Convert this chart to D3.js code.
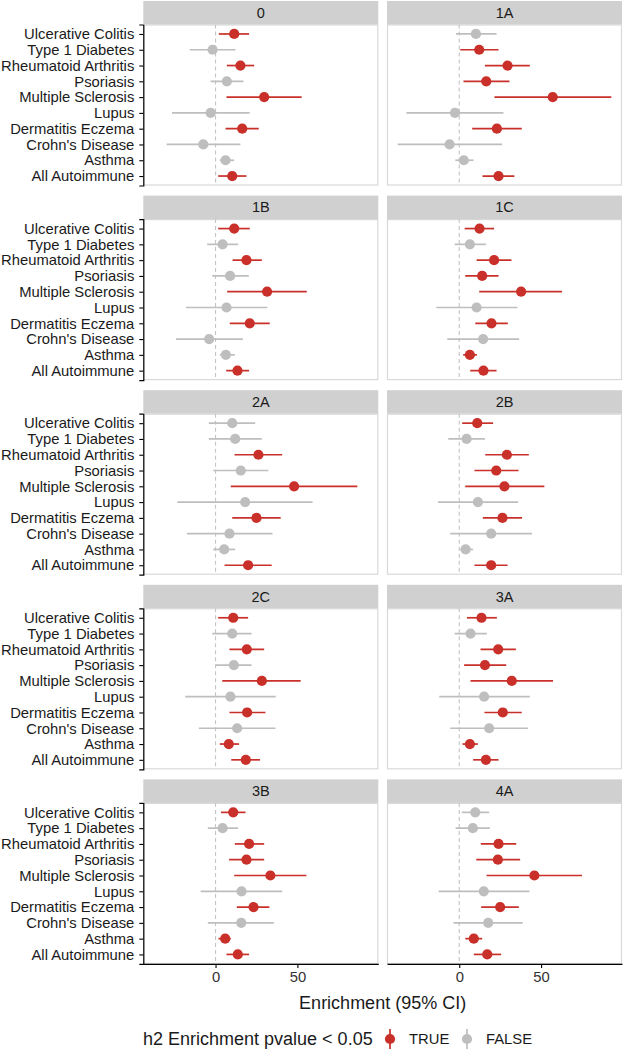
<!DOCTYPE html>
<html>
<head>
<meta charset="utf-8">
<script src="https://cdn.jsdelivr.net/npm/d3@7"></script>
<style>
  html, body { margin: 0; padding: 0; background: #fff; }
  svg { display: block; font-family: "Liberation Sans", Arial, sans-serif; }
</style>
</head>
<body>
<svg id="chart" width="624" height="1050"></svg>
<script>
// ---------- DATA ----------
const categories = ["Ulcerative Colitis", "Type 1 Diabetes", "Rheumatoid Arthritis", "Psoriasis",
  "Multiple Sclerosis", "Lupus", "Dermatitis Eczema", "Crohn's Disease", "Asthma", "All Autoimmune"];
const panels = ["0", "1A", "1B", "1C", "2A", "2B", "2C", "3A", "3B", "4A"];
const xTicks = [0, 50];

// estimate, lower, upper, significant — one array per panel, in category order
const est_0  = [11.4, -1.8, 15.2, 6.9, 29.7, -3.0, 16.3, -7.5, 6.1, 10.2];
const lo_0   = [2.0, -15.7, 6.9, -3.0, 6.7, -26.6, 6.1, -29.9, 2.6, 1.6];
const hi_0   = [20.5, 12.2, 23.6, 17.0, 52.6, 20.9, 26.4, 15.2, 11.4, 18.9];
const sig_0  = [1, 0, 1, 0, 1, 0, 1, 0, 0, 1];

const est_1A = [10.2, 12.2, 29.5, 16.5, 57.1, -2.6, 23.0, -5.9, 2.8, 24.0];
const lo_1A  = [-2.0, 0.6, 15.7, 2.6, 21.5, -32.3, 7.9, -37.6, -2.4, 14.2];
const hi_1A  = [22.8, 24.0, 43.1, 30.7, 92.9, 27.0, 38.2, 26.2, 8.7, 33.7];
const sig_1A = [0, 1, 1, 1, 1, 0, 1, 0, 0, 1];

const est_1B = [11.4, 4.3, 18.9, 8.9, 31.5, 6.7, 20.9, -3.9, 6.3, 13.4];
const lo_1B  = [1.6, -5.1, 10.4, -2.0, 7.1, -18.1, 8.7, -24.2, 2.6, 6.5];
const hi_1B  = [20.9, 13.8, 28.3, 20.3, 55.7, 31.7, 33.1, 16.7, 11.8, 20.5];
const sig_1B = [1, 0, 1, 0, 1, 0, 1, 0, 0, 1];

const est_1C = [12.4, 6.5, 21.3, 14.0, 37.8, 10.6, 19.7, 14.6, 6.5, 14.8];
const lo_1C  = [3.3, -2.8, 10.6, 3.7, 12.2, -14.0, 9.8, -7.3, 2.4, 6.7];
const hi_1C  = [21.3, 16.3, 31.9, 24.0, 62.8, 35.6, 29.7, 36.6, 10.8, 22.8];
const sig_1C = [1, 0, 1, 1, 1, 0, 1, 0, 1, 1];

const est_2A = [10.2, 12.0, 26.2, 15.4, 48.0, 18.1, 25.0, 8.5, 5.3, 19.9];
const lo_2A  = [-4.1, -4.1, 11.6, -1.4, 9.3, -23.4, 10.2, -17.5, -1.4, 5.5];
const hi_2A  = [24.2, 28.3, 40.7, 32.3, 86.6, 59.3, 39.8, 34.8, 12.0, 34.3];
const sig_2A = [0, 0, 1, 0, 1, 0, 1, 0, 0, 1];

const est_2B = [11.0, 4.5, 29.1, 22.6, 27.6, 11.4, 26.4, 19.5, 3.9, 19.5];
const lo_2B  = [1.8, -6.7, 15.9, 9.3, 3.7, -13.0, 14.4, -5.5, 0.6, 9.3];
const hi_2B  = [20.7, 15.7, 42.5, 36.2, 52.0, 36.0, 38.4, 44.5, 8.5, 29.5];
const sig_2B = [1, 0, 1, 1, 1, 0, 1, 0, 0, 1];

const est_2C = [10.8, 10.2, 19.1, 11.2, 28.3, 9.1, 19.3, 13.2, 8.1, 18.5];
const lo_2C  = [1.6, -2.0, 8.5, 0.2, 4.1, -18.5, 8.5, -10.2, 2.6, 9.6];
const hi_2C  = [19.9, 22.0, 29.7, 22.0, 52.0, 36.8, 30.5, 36.6, 14.4, 27.2];
const sig_2C = [1, 0, 1, 0, 1, 0, 1, 0, 1, 1];

const est_3A = [13.6, 6.9, 23.8, 15.7, 32.1, 15.2, 26.6, 18.3, 6.5, 16.3];
const lo_3A  = [4.7, -2.8, 13.0, 3.0, 6.9, -12.2, 15.4, -5.5, 2.0, 8.5];
const hi_3A  = [23.0, 16.9, 34.6, 28.7, 57.3, 43.1, 38.2, 42.1, 11.4, 24.0];
const sig_3A = [1, 0, 1, 1, 1, 0, 1, 0, 1, 1];

const est_3B = [10.8, 4.3, 20.5, 18.9, 33.5, 15.9, 23.2, 15.7, 5.9, 13.6];
const lo_3B  = [3.3, -4.7, 11.8, 8.3, 11.4, -9.1, 13.0, -4.7, 1.8, 6.7];
const hi_3B  = [18.3, 13.8, 29.7, 29.7, 55.5, 40.7, 32.9, 35.6, 9.3, 20.5];
const sig_3B = [1, 0, 1, 1, 1, 0, 1, 0, 1, 1];

const est_4A = [9.8, 8.3, 24.0, 23.6, 45.9, 15.0, 25.0, 17.7, 8.9, 17.1];
const lo_4A  = [1.6, -2.2, 13.2, 10.4, 16.7, -12.6, 13.4, -3.5, 3.7, 8.9];
const hi_4A  = [18.3, 18.7, 34.8, 37.2, 75.0, 42.9, 36.4, 38.8, 14.0, 25.6];
const sig_4A = [0, 0, 1, 1, 1, 0, 1, 0, 1, 1];

const legendLabels = ["TRUE", "FALSE"];

// ---------- BUILD TABLE ----------
const src = {
  "0": [est_0, lo_0, hi_0, sig_0], "1A": [est_1A, lo_1A, hi_1A, sig_1A],
  "1B": [est_1B, lo_1B, hi_1B, sig_1B], "1C": [est_1C, lo_1C, hi_1C, sig_1C],
  "2A": [est_2A, lo_2A, hi_2A, sig_2A], "2B": [est_2B, lo_2B, hi_2B, sig_2B],
  "2C": [est_2C, lo_2C, hi_2C, sig_2C], "3A": [est_3A, lo_3A, hi_3A, sig_3A],
  "3B": [est_3B, lo_3B, hi_3B, sig_3B], "4A": [est_4A, lo_4A, hi_4A, sig_4A]
};
const rows = [];
panels.forEach(p => {
  const [e, l, h, s] = src[p];
  categories.forEach((c, i) => rows.push({panel: p, cat: c, est: e[i], lo: l[i], hi: h[i], sig: s[i] === 1}));
});

// ---------- LAYOUT ----------
const RED = "#c9302a", GREY = "#bebebe";
const FONT = "Liberation Sans, Arial, sans-serif";
const colX = [143.3, 387];
const panelW = 235;
const stripH = 23.5, bodyH = 161, rowStep = 194.6, top0 = 1;

const xmin = d3.min(rows, d => d.lo), xmax = d3.max(rows, d => d.hi);
const pad = (xmax - xmin) * 0.05;
const x = d3.scaleLinear().domain([xmin - pad, xmax + pad]).range([0, panelW]);
const y = d3.scalePoint().domain(categories).range([0, bodyH]).padding(0.6);

const svg = d3.select("#chart");

panels.forEach((p, i) => {
  const col = i % 2, row = Math.floor(i / 2);
  const gx = colX[col];
  const stripTop = top0 + row * rowStep;
  const bodyTop = stripTop + stripH;
  const g = svg.append("g").attr("transform", `translate(${gx},${bodyTop})`);

  // strip
  svg.append("rect").attr("x", gx).attr("y", stripTop).attr("width", panelW).attr("height", stripH)
    .attr("fill", "#d0d0d0");
  svg.append("text").attr("x", gx + panelW / 2).attr("y", stripTop + stripH / 2)
    .attr("text-anchor", "middle").attr("dominant-baseline", "central")
    .style("font-size", "14.5px").style("font-family", FONT).attr("fill", "#1a1a1a").text(p);

  // panel border
  g.append("rect").attr("x", 0.5).attr("y", 0.5).attr("width", panelW - 1).attr("height", bodyH - 1)
    .attr("fill", "#fff").attr("stroke", "#d9d9d9").attr("stroke-width", 1.2);

  // zero reference line
  g.append("line").attr("x1", x(0)).attr("x2", x(0)).attr("y1", 0).attr("y2", bodyH)
    .attr("stroke", "#c4c4c4").attr("stroke-width", 1.1).attr("stroke-dasharray", "4,3");

  const pd = rows.filter(r => r.panel === p);
  g.selectAll("line.ci").data(pd).enter().append("line").attr("class", "ci")
    .attr("x1", d => x(d.lo)).attr("x2", d => x(d.hi))
    .attr("y1", d => y(d.cat)).attr("y2", d => y(d.cat))
    .attr("stroke", d => d.sig ? RED : GREY).attr("stroke-width", 1.7);
  g.selectAll("circle.pt").data(pd).enter().append("circle").attr("class", "pt")
    .attr("cx", d => x(d.est)).attr("cy", d => y(d.cat)).attr("r", 5.1)
    .attr("fill", d => d.sig ? RED : GREY);

  // left axis for left column
  if (col === 0) {
    const ay = g.append("g").call(d3.axisLeft(y).tickSize(4).tickPadding(5));
    ay.select(".domain").attr("stroke", "#000").attr("stroke-width", 1.2);
    ay.selectAll(".tick line").attr("stroke", "#000").attr("stroke-width", 1.1);
    ay.selectAll(".tick text").style("font-size", "14.8px").style("font-family", FONT).attr("fill", "#1a1a1a");
  }
  // bottom axis for last row
  if (row === 4) {
    const ax = g.append("g").attr("transform", `translate(0,${bodyH})`)
      .call(d3.axisBottom(x).tickValues(xTicks).tickSize(4).tickPadding(4).tickSizeOuter(0));
    ax.select(".domain").attr("stroke", "#000").attr("stroke-width", 1.2);
    ax.selectAll(".tick line").attr("stroke", "#000").attr("stroke-width", 1.1);
    ax.selectAll(".tick text").style("font-size", "14.8px").style("font-family", FONT).attr("fill", "#333");
  }
});

// x-axis title
svg.append("text").attr("x", (colX[0] + colX[1] + panelW) / 2).attr("y", 1003)
  .attr("text-anchor", "middle").attr("dominant-baseline", "central")
  .style("font-size", "18px").style("font-family", FONT).attr("fill", "#1a1a1a")
  .text("Enrichment (95% CI)");

// legend
const ly = 1039;
const lg = svg.append("g");
lg.append("text").attr("x", 143).attr("y", ly).attr("dominant-baseline", "central")
  .style("font-size", "18px").style("font-family", FONT).attr("fill", "#1a1a1a")
  .text("h2 Enrichment pvalue < 0.05");
const keyX = [390, 467];
legendLabels.forEach((lab, i) => {
  const c = i === 0 ? RED : GREY;
  lg.append("line").attr("x1", keyX[i]).attr("x2", keyX[i]).attr("y1", ly - 10).attr("y2", ly + 10)
    .attr("stroke", c).attr("stroke-width", 1.7);
  lg.append("circle").attr("cx", keyX[i]).attr("cy", ly).attr("r", 5.1).attr("fill", c);
  lg.append("text").attr("x", keyX[i] + 19).attr("y", ly).attr("dominant-baseline", "central")
    .style("font-size", "14.8px").style("font-family", FONT).attr("fill", "#1a1a1a").text(lab);
});
</script>
</body>
</html>
